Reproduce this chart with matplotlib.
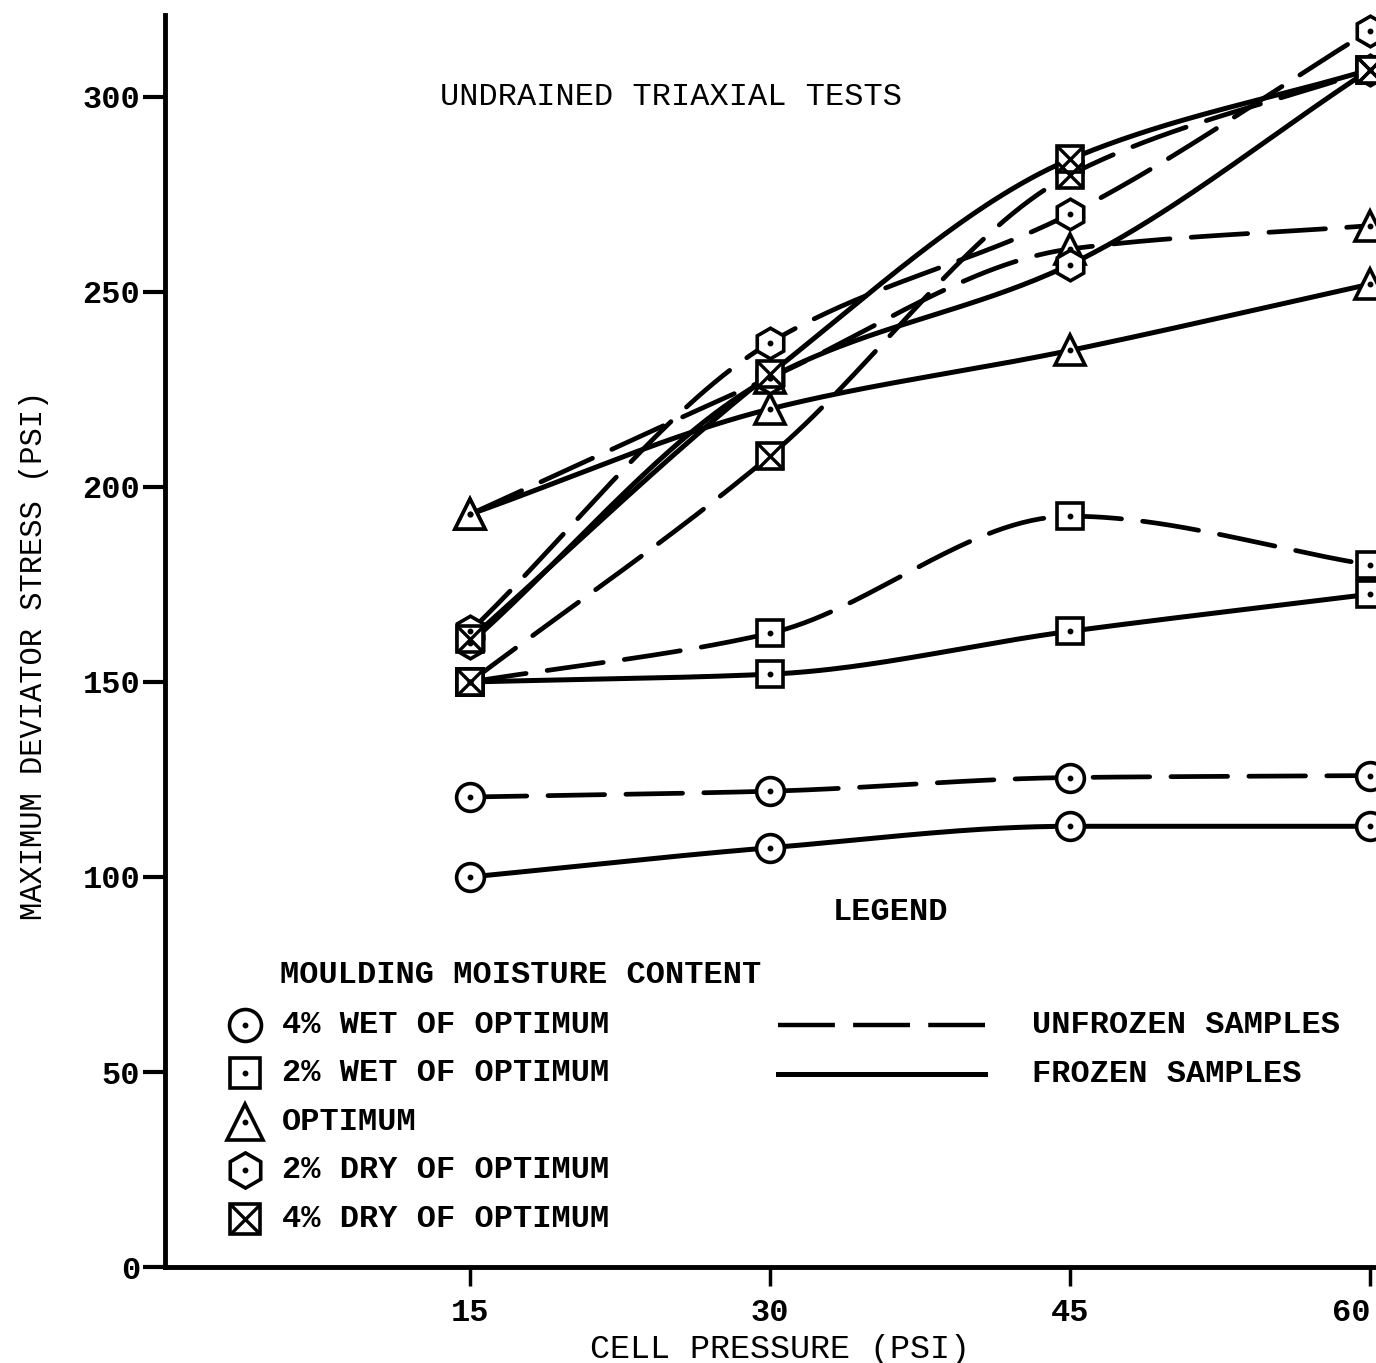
import numpy as np
import matplotlib
matplotlib.use('Agg')
import matplotlib.pyplot as plt

plt.rcParams['font.family'] = ['Liberation Mono', 'DejaVu Sans Mono']

# cell pressure (psi)
cell_pressure = [15, 30, 45, 60]

# maximum deviator stress (psi)
wet4_unfrozen = [120.5, 122.0, 125.5, 126.0]
wet4_frozen = [100.0, 107.5, 113.0, 113.0]
wet2_unfrozen = [150.0, 162.5, 192.5, 180.0]
wet2_frozen = [150.0, 152.0, 163.0, 172.5]
opt_unfrozen = [193.0, 228.0, 261.0, 267.0]
opt_frozen = [193.0, 220.0, 235.0, 252.0]
dry2_unfrozen = [163.0, 237.0, 270.0, 317.0]
dry2_frozen = [160.0, 228.0, 257.0, 307.0]
dry4_unfrozen = [150.0, 208.0, 280.0, 307.0]
dry4_frozen = [161.0, 229.0, 284.0, 307.0]

yticks = [0, 50, 100, 150, 200, 250, 300]
xticks = [15, 30, 45, 60]

legend_labels = ['4% WET OF OPTIMUM', '2% WET OF OPTIMUM', 'OPTIMUM',
                 '2% DRY OF OPTIMUM', '4% DRY OF OPTIMUM']
legend_kinds = ['circle', 'square', 'triangle', 'hexagon', 'xsquare']

series = [
    (wet4_unfrozen, 'circle', True), (wet4_frozen, 'circle', False),
    (wet2_unfrozen, 'square', True), (wet2_frozen, 'square', False),
    (opt_unfrozen, 'triangle', True), (opt_frozen, 'triangle', False),
    (dry2_unfrozen, 'hexagon', True), (dry2_frozen, 'hexagon', False),
    (dry4_unfrozen, 'xsquare', True), (dry4_frozen, 'xsquare', False),
]

marker_style = {'circle': ('o', 20), 'square': ('s', 19), 'triangle': ('^', 22),
                'hexagon': ('h', 22), 'xsquare': ('s', 19)}


def pchip(x, y, xn):
    # monotone cubic (Fritsch-Carlson) so the hand-drawn curves don't overshoot
    x = np.asarray(x, float)
    y = np.asarray(y, float)
    h = np.diff(x)
    d = np.diff(y) / h
    m = np.zeros_like(y)
    for k in range(1, len(x) - 1):
        if d[k - 1] * d[k] > 0:
            w1 = 2 * h[k] + h[k - 1]
            w2 = h[k] + 2 * h[k - 1]
            m[k] = (w1 + w2) / (w1 / d[k - 1] + w2 / d[k])
    m[0] = d[0]
    m[-1] = d[-1]
    out = np.empty_like(xn)
    for i, xv in enumerate(xn):
        k = min(np.searchsorted(x, xv, side='right') - 1, len(x) - 2)
        t = (xv - x[k]) / h[k]
        h00 = 2 * t**3 - 3 * t**2 + 1
        h10 = t**3 - 2 * t**2 + t
        h01 = -2 * t**3 + 3 * t**2
        h11 = t**3 - t**2
        out[i] = h00 * y[k] + h10 * h[k] * m[k] + h01 * y[k + 1] + h11 * h[k] * m[k + 1]
    return out


def draw_marker(ax, x, y, kind, scale=1.0):
    m, ms = marker_style[kind]
    ax.plot(x, y, ls='none', marker=m, ms=ms * scale, mfc='white', mec='black',
            mew=2.6, clip_on=False, zorder=5)
    if kind == 'xsquare':
        ax.plot(x, y, ls='none', marker='x', ms=ms * scale * 0.95, mec='black',
                mew=2.4, clip_on=False, zorder=6)
    else:
        ax.plot(x, y, ls='none', marker='o', ms=3.2, mfc='black', mec='black',
                clip_on=False, zorder=6)


fig = plt.figure(figsize=(13.76, 13.63), dpi=100)
ax = fig.add_axes([0.12, 0.0704, 0.88, 0.9186])

xs = np.array(cell_pressure, dtype=float)
xx = np.linspace(15, 60, 200)
for vals, kind, unfrozen in series:
    yy = pchip(xs, vals, xx)
    if unfrozen:
        ax.plot(xx, yy, color='black', lw=3.4, dashes=(12, 4.5),
                dash_capstyle='round', clip_on=False, zorder=3)
    else:
        ax.plot(xx, yy, color='black', lw=3.6, clip_on=False, zorder=3)
    draw_marker(ax, xs, vals, kind)

ax.set_xlim(-0.25, 60.3)
ax.set_ylim(0, 321)
ax.spines['top'].set_visible(False)
ax.spines['right'].set_visible(False)
ax.spines['left'].set_linewidth(3.5)
ax.spines['bottom'].set_linewidth(3.5)

ax.set_xticks(xticks)
ax.set_yticks(yticks)
ax.set_xticklabels([str(v) for v in xticks], fontsize=23, fontweight='bold')
ax.set_yticklabels([str(v) for v in yticks], fontsize=23, fontweight='bold')
ax.get_xticklabels()[-1].set_horizontalalignment('right')
ax.tick_params(axis='y', direction='out', length=16, width=3, pad=2)
ax.tick_params(axis='x', direction='out', length=14, width=2.5, pad=8)

fig.text(0.025, 0.519, 'MAXIMUM DEVIATOR STRESS (PSI)', rotation=90,
         ha='center', va='center', fontsize=22)
fig.text(0.567, 0.010, 'CELL PRESSURE (PSI)', ha='center', va='center',
         fontsize=24)

ax.text(13.5, 300, 'UNDRAINED TRIAXIAL TESTS', ha='left', va='center',
        fontsize=23)

# legend drawn by hand, as on the original sheet
ax.text(36, 91, 'LEGEND', ha='center', va='center', fontsize=23,
        fontweight='bold')
ax.text(5.5, 75, 'MOULDING MOISTURE CONTENT', ha='left', va='center',
        fontsize=23, fontweight='bold')
row_y = [62, 49.7, 37.2, 24.9, 12.2]
for yv, lab, kind in zip(row_y, legend_labels, legend_kinds):
    draw_marker(ax, [3.75], [yv], kind, scale=1.15)
    ax.text(5.6, yv, lab, ha='left', va='center', fontsize=23,
            fontweight='bold')

ax.plot([30.4, 40.75], [62, 62], color='black', lw=3.2, dashes=(12.8, 4.1))
ax.plot([30.4, 40.75], [49.5, 49.5], color='black', lw=3.6)
ax.text(43.1, 62, 'UNFROZEN SAMPLES', ha='left', va='center', fontsize=23,
        fontweight='bold')
ax.text(43.1, 49.5, 'FROZEN SAMPLES', ha='left', va='center', fontsize=23,
        fontweight='bold')

fig.savefig('out.png', dpi=100, facecolor='white')
